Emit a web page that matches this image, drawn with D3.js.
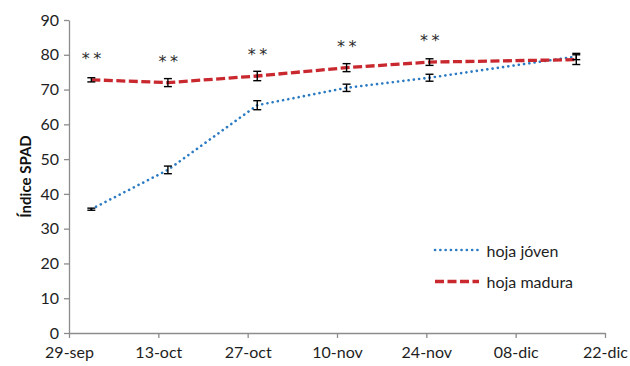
<!DOCTYPE html>
<html>
<head>
<meta charset="utf-8">
<script src="https://cdn.jsdelivr.net/npm/d3@7"></script>
<style>
  html, body { margin: 0; padding: 0; background: #fff; }
  svg { display: block; font-family: Lato, "Open Sans", sans-serif; }
</style>
</head>
<body>
<svg id="chart" width="630" height="366"></svg>
<script>
// Sampling dates (each measurement sits in the middle of its day slot)
const sampleDates = ["2012-10-02", "2012-10-14", "2012-10-28", "2012-11-11", "2012-11-24", "2012-12-17"];

// SPAD index, mean and error, per leaf age
const youngMean = [35.6, 46.9, 65.5, 70.5, 73.4, 79.5];
const youngErr  = [0.3, 1.1, 1.3, 1.05, 1.0, 0.9];
const matureMean = [72.8, 72.0, 73.9, 76.3, 77.9, 78.6];
const matureErr  = [0.6, 1.15, 1.35, 1.15, 0.95, 1.4];

// Significance marks above the mature-leaf points
const signif = ["**", "**", "**", "**", "**", ""];

// Axis ticks
const xTickDates = ["2012-09-29", "2012-10-13", "2012-10-27", "2012-11-10", "2012-11-24", "2012-12-08", "2012-12-22"];
const monthAbbr = ["ene", "feb", "mar", "abr", "may", "jun", "jul", "ago", "sep", "oct", "nov", "dic"];
const yTicks = [0, 10, 20, 30, 40, 50, 60, 70, 80, 90];

const seriesNames = ["hoja jóven", "hoja madura"];
const seriesColors = ["#2b7bc4", "#c8282e"];

const parse = d3.utcParse("%Y-%m-%d");
const halfDay = 12 * 3600 * 1000;
const dates = sampleDates.map(s => new Date(parse(s).getTime() + halfDay));
const ticks = xTickDates.map(parse);

const svg = d3.select("#chart");
const margin = { left: 69, right: 25, top: 20, bottom: 33 };
const W = 630, H = 366;

const x = d3.scaleUtc()
  .domain([ticks[0], ticks[ticks.length - 1]])
  .range([margin.left, W - margin.right]);
const y = d3.scaleLinear().domain([0, 90]).range([H - margin.bottom, margin.top]);

const axisColor = "#8c8c8c";
const textColor = "#1e1e1e";
const fmt = d => String(d.getUTCDate()).padStart(2, "0") + "-" + monthAbbr[d.getUTCMonth()];

// Y axis
const gy = svg.append("g")
  .attr("transform", `translate(${margin.left},0)`)
  .call(d3.axisLeft(y).tickValues(yTicks).tickSize(5).tickPadding(5).tickSizeOuter(0));
gy.select(".domain").attr("stroke", axisColor).attr("stroke-width", 1.3);
gy.selectAll(".tick line").attr("stroke", axisColor).attr("stroke-width", 1.3);
gy.selectAll(".tick text").attr("font-size", 16).attr("fill", textColor).attr("font-family", "Lato, sans-serif");

// X axis
const gx = svg.append("g")
  .attr("transform", `translate(0,${H - margin.bottom})`)
  .call(d3.axisBottom(x).tickValues(ticks).tickFormat(fmt).tickSize(5).tickPadding(9).tickSizeOuter(0));
gx.select(".domain").attr("stroke", axisColor).attr("stroke-width", 1.3);
gx.selectAll(".tick line").attr("stroke", axisColor).attr("stroke-width", 1.3);
gx.selectAll(".tick text").attr("font-size", 16).attr("fill", textColor).attr("font-family", "Lato, sans-serif");

// Y axis title
svg.append("text")
  .attr("transform", `translate(31,${(y(0) + y(90)) / 2}) rotate(-90)`)
  .attr("text-anchor", "middle")
  .attr("font-size", 15)
  .attr("font-weight", "bold")
  .attr("fill", "#111")
  .text("Índice SPAD");

const series = [
  { mean: youngMean, err: youngErr, dash: "0.1 5.2", width: 2.6, cap: "round" },
  { mean: matureMean, err: matureErr, dash: "9 3.5", width: 3.3, cap: "butt" }
];

const line = d3.line().x((d, i) => x(dates[i])).y(d => y(d));

series.forEach((s, k) => {
  svg.append("path")
    .datum(s.mean)
    .attr("d", line)
    .attr("fill", "none")
    .attr("stroke", seriesColors[k])
    .attr("stroke-width", s.width)
    .attr("stroke-dasharray", s.dash)
    .attr("stroke-linecap", s.cap);
});

// Error bars
series.forEach(s => {
  const g = svg.append("g").attr("stroke", "#000").attr("stroke-width", 1.4);
  s.mean.forEach((m, i) => {
    const cx = x(dates[i]);
    const y1 = y(m - s.err[i]), y2 = y(m + s.err[i]);
    g.append("line").attr("x1", cx).attr("x2", cx).attr("y1", y1).attr("y2", y2);
    g.append("line").attr("x1", cx - 4).attr("x2", cx + 4).attr("y1", y1).attr("y2", y1);
    g.append("line").attr("x1", cx - 4).attr("x2", cx + 4).attr("y1", y2).attr("y2", y2);
  });
});

// Significance labels (grayscale antialiasing via a translucent layer)
svg.append("g")
  .attr("opacity", 0.99)
  .selectAll("text")
  .data(signif)
  .join("text")
  .attr("x", (d, i) => x(dates[i]) + 2)
  .attr("y", (d, i) => y(matureMean[i]) - 16)
  .attr("text-anchor", "middle")
  .attr("font-family", "'DejaVu Sans', sans-serif")
  .attr("font-size", 16)
  .attr("letter-spacing", 3.5)
  .attr("fill", "#2a2a2a")
  .text(d => d);

// Legend
const legend = svg.append("g");
series.forEach((s, k) => {
  const ly = 250 + k * 31.5;
  legend.append("line")
    .attr("x1", 435).attr("x2", 479).attr("y1", ly).attr("y2", ly)
    .attr("stroke", seriesColors[k])
    .attr("stroke-width", s.width)
    .attr("stroke-dasharray", s.dash)
    .attr("stroke-linecap", s.cap);
  legend.append("text")
    .attr("x", 486.5).attr("y", ly + 6.5)
    .attr("font-size", 16)
    .attr("fill", textColor)
    .text(seriesNames[k]);
});
</script>
</body>
</html>
